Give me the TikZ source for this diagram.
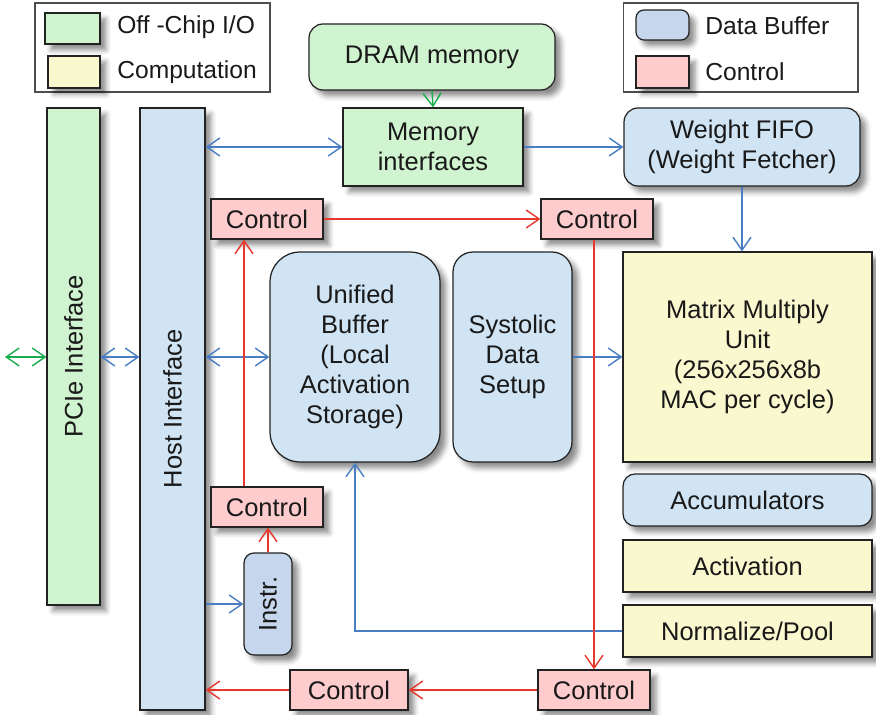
\documentclass[tikz,border=0pt]{standalone}
\usepackage{graphicx}
\usepackage{fontspec}
\setmainfont{Liberation Sans}
\usetikzlibrary{arrows.meta, positioning, shadows, shadows.blur}
\definecolor{tpuio}{RGB}{208, 244, 208}
\definecolor{tpucomp}{RGB}{250, 248, 206}
\definecolor{tpubuf}{RGB}{208, 228, 244}
\definecolor{tpuinstr}{RGB}{198, 214, 236}
\definecolor{tpuctrl}{RGB}{255, 204, 206}
\definecolor{tpuedge}{RGB}{34, 34, 34}
\definecolor{tpublue}{RGB}{74, 126, 194}
\definecolor{tpured}{RGB}{230, 56, 44}
\definecolor{tpugreen}{RGB}{24, 172, 76}
\tikzset{
  unit/.style={rectangle, draw=tpuedge, line width=0.7pt, inner sep=0pt, align=center,
               text=black!90, font=\fontsize{14.5}{17}\selectfont,
               blur shadow={shadow xshift=0.12cm, shadow yshift=-0.12cm,
                            shadow blur radius=0.1cm, shadow opacity=45}},
  iobox/.style={unit, fill=tpuio},
  compbox/.style={unit, fill=tpucomp},
  bufbox/.style={unit, fill=tpubuf, rounded corners=#1},
  bufbox/.default=0.28cm,
  ctrlbox/.style={unit, fill=tpuctrl, minimum width=2.24cm, minimum height=0.8cm},
  legendbox/.style={rectangle, draw=tpuedge!80, line width=0.6pt, minimum width=4.7cm, minimum height=1.78cm},
  legendtext/.style={anchor=west, inner sep=0pt, text=black!90, font=\fontsize{14}{17}\selectfont},
  barb/.tip={Straight Barb[length=2.6mm, width=3.6mm]},
  arrow/.style={-barb, line width=0.8pt, color=tpublue},
  darrow/.style={barb-barb, line width=0.8pt, color=tpublue},
  redarrow/.style={-barb, line width=0.8pt, color=tpured},
  greenarrow/.style={-barb, line width=0.8pt, color=tpugreen},
}
\begin{document}
\begin{tikzpicture}[x=0.02cm, y=-0.02cm]
  \useasboundingbox (0,0) rectangle (876,715);

  % Legend
  \node[legendbox] (legL) at (152.5,47.5) {};
  \node[iobox, minimum width=1.1cm, minimum height=0.62cm] (keyio) at (72.5,28.5) {};
  \node[compbox, minimum width=1.04cm, minimum height=0.64cm] (keycomp) at (74,72) {};
  \node[legendtext] (txtio) at (117,27) {Off -Chip I/O};
  \node[legendtext] (txtcomp) at (117,72) {Computation};
  \node[legendbox] (legR) at (740.5,47.5) {};
  \node[bufbox=0.16cm, fill=tpuinstr, minimum width=1.06cm, minimum height=0.6cm] (keybuf) at (662.5,25) {};
  \node[ctrlbox, minimum width=1.06cm, minimum height=0.64cm] (keyctrl) at (662.5,72) {};
  \node[legendtext] (txtbuf) at (705,26) {Data Buffer};
  \node[legendtext] (txtctrl) at (705,72) {Control};

  % Memory path
  \node[iobox, rounded corners=0.28cm, minimum width=4.92cm, minimum height=1.32cm] (dram) at (432,57) {DRAM memory};
  \node[iobox, minimum width=3.6cm, minimum height=1.56cm] (memif) at (433,147) {Memory\\interfaces};
  \node[bufbox, minimum width=4.72cm, minimum height=1.56cm] (wfifo) at (742,147) {Weight FIFO\\(Weight Fetcher)};

  % Interfaces
  \node[iobox, minimum width=1.06cm, minimum height=9.94cm] (pcie) at (73.5,356.5) {\rotatebox{90}{PCIe Interface}};
  \node[bufbox=0cm, minimum width=1.3cm, minimum height=12.04cm] (host) at (172.5,409) {\rotatebox{90}{Host Interface}};

  % Datapath
  \node[bufbox=0.6cm, minimum width=3.4cm, minimum height=4.2cm] (ubuf) at (355,357) {Unified\\Buffer\\(Local\\Activation\\Storage)};
  \node[bufbox=0.4cm, minimum width=2.38cm, minimum height=4.2cm] (sds) at (512.5,357) {Systolic\\Data\\Setup};
  \node[compbox, minimum width=4.98cm, minimum height=4.2cm] (mmu) at (747.5,357) {Matrix Multiply\\Unit\\(256x256x8b\\MAC per cycle)};
  \node[bufbox=0.24cm, minimum width=4.98cm, minimum height=1.04cm] (accum) at (747.5,500) {Accumulators};
  \node[compbox, minimum width=4.98cm, minimum height=1.04cm] (activ) at (747.5,566) {Activation};
  \node[compbox, minimum width=4.98cm, minimum height=1.04cm] (npool) at (747.5,631) {Normalize/Pool};

  % Control
  \node[ctrlbox] (ctlA) at (267,219) {Control};
  \node[ctrlbox] (ctlB) at (597,219) {Control};
  \node[ctrlbox] (ctlC) at (267,507) {Control};
  \node[bufbox=0.2cm, fill=tpuinstr, minimum width=0.96cm, minimum height=2.04cm] (instr) at (268,604) {\rotatebox{90}{Instr.}};
  \node[ctrlbox, minimum width=2.36cm] (ctlD) at (349,690) {Control};
  \node[ctrlbox] (ctlE) at (594,690) {Control};
  \coordinate (offchip) at (5,357);

  % Data arrows
  \draw[greenarrow] (dram.south) -- (memif.north);
  \draw[darrow] (memif.west -| host.east) -- (memif.west);
  \draw[arrow] (memif.east) -- (wfifo.west);
  \draw[arrow] (wfifo.south) -- (wfifo.south |- mmu.north);
  \draw[greenarrow, barb-barb] (offchip) -- (offchip -| pcie.west);
  \draw[darrow] (pcie.east |- ubuf.west) -- (host.west |- ubuf.west);
  \draw[darrow] (ubuf.west -| host.east) -- (ubuf.west);
  \draw[arrow] (sds.east) -- (mmu.west);
  \draw[arrow] (instr.west -| host.east) -- (instr.west);
  \draw[arrow] (npool.west) -| (ubuf.south);

  % Control arrows
  \draw[redarrow] (ctlA.east) -- (ctlB.west);
  \draw[redarrow] ([xshift=-0.46cm]ctlC.north) -- ([xshift=-0.46cm]ctlA.south);
  \draw[redarrow] (instr.north) -- (instr.north |- ctlC.south);
  \draw[redarrow] (ctlE.north |- ctlB.south) -- (ctlE.north);
  \draw[redarrow] (ctlE.west) -- (ctlD.east);
  \draw[redarrow] (ctlD.west) -- (ctlD.west -| host.east);
\end{tikzpicture}
\end{document}
